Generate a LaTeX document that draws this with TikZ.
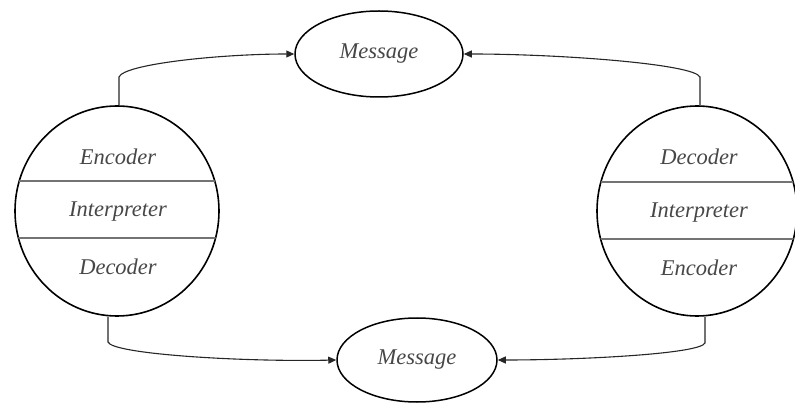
\documentclass[tikz,border=0pt]{standalone}
\usepackage{fontspec}
\setmainfont{Liberation Serif}
\usetikzlibrary{shapes.geometric,arrows.meta}
\begin{document}
\begin{tikzpicture}[x=1pt,y=-1pt,
  lbl/.style={font=\fontsize{22.5}{24}\selectfont\itshape, text=black!72},
  bigcirc/.style={draw, ellipse, line width=1.6pt, minimum width=204pt, minimum height=210pt, inner sep=0pt},
  msg/.style={draw, ellipse, line width=1.5pt, inner sep=0pt, font=\fontsize{22.5}{24}\selectfont\itshape, text=black!72},
  chord/.style={draw=black!55, line width=1.1pt},
  conn/.style={draw=black!85, line width=1.1pt, -{Triangle[length=8pt,width=7pt]}}]
\useasboundingbox (0,0) rectangle (795,403);
% circles
\node[bigcirc] (L) at (117,211) {};
\node[bigcirc, minimum width=200pt] (R) at (697,211) {};
\begin{scope}
  \clip (117,211) ellipse [x radius=102, y radius=105];
  \draw[chord] (0,181) -- (240,181);
  \draw[chord] (0,238) -- (240,238);
\end{scope}
\begin{scope}
  \clip (697,211) ellipse [x radius=100, y radius=105];
  \draw[chord] (580,182) -- (800,182);
  \draw[chord] (580,239) -- (800,239);
\end{scope}
\node[lbl] (le) at (118,157) {Encoder};
\node[lbl] (li) at (118,212) {Interpreter};
\node[lbl] (ld) at (118,267) {Decoder};
\node[lbl] (rd) at (699,157) {Decoder};
\node[lbl] (ri) at (699,213) {Interpreter};
\node[lbl] (re) at (699,268) {Encoder};
% messages
\node[msg, minimum width=168pt, minimum height=86pt] (M1) at (379,54) {Message};
\node[msg, minimum width=160pt, minimum height=84pt] (M2) at (417,360) {Message};
% connectors
\coordinate (a1) at (119,77);
\coordinate (a2) at (700,77);
\coordinate (b1) at (108,342);
\coordinate (b2) at (705,343);
\draw[conn] (L.north -| a1) -- (a1) .. controls (124,64) and (220,54) .. (M1.west);
\draw[conn] (R.north -| a2) -- (a2) .. controls (694,64) and (560,54) .. (M1.east);
\draw[conn] (L.south -| b1) -- (b1) .. controls (112,354) and (240,362) .. (M2.west);
\draw[conn] (R.south -| b2) -- (b2) .. controls (700,354) and (580,360) .. (M2.east);
\end{tikzpicture}
\end{document}
